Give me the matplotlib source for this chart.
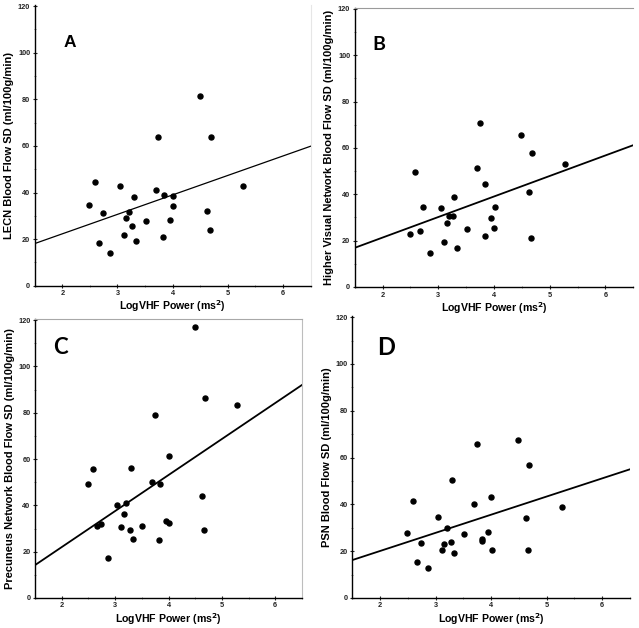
import numpy as np
import matplotlib.pyplot as plt
from matplotlib.ticker import MultipleLocator

# ---------------- DATA ----------------
# LogVHF power (same subjects in every panel)
logvhf = [2.49, 2.59, 2.67, 2.73, 2.86, 3.04, 3.11, 3.16, 3.20, 3.27, 3.29, 3.34, 3.51,
          3.70, 3.74, 3.83, 3.84, 3.95, 4.00, 4.01, 4.49, 4.62, 4.67, 4.69, 5.28]

lecn = [34.6, 44.4, 18.2, 31.3, 13.9, 43.0, 21.8, 29.0, 31.8, 25.7, 38.2, 19.4, 27.6,
        41.2, 63.8, 21.1, 39.1, 28.3, 38.5, 34.1, 81.6, 32.2, 24.1, 63.8, 42.7]
hvn = [22.8, 49.6, 24.1, 34.6, 14.6, 33.9, 19.3, 27.8, 30.7, 30.7, 38.8, 17.0, 25.2,
       51.4, 70.7, 22.2, 44.4, 29.7, 25.6, 34.4, 65.6, 41.2, 21.2, 57.8, 53.0]
precuneus = [49.3, 55.5, 31.3, 32.0, 17.3, 40.0, 30.8, 36.4, 41.0, 29.4, 56.3, 25.4, 31.1,
             50.0, 79.1, 24.9, 49.2, 33.1, 61.2, 32.4, 117.0, 44.2, 29.2, 86.2, 83.2]
psn = [27.8, 41.5, 15.5, 23.6, 13.0, 34.8, 20.7, 23.1, 29.8, 23.9, 50.4, 19.1, 27.4,
       40.3, 65.7, 24.5, 25.1, 28.1, 43.3, 20.5, 67.7, 34.2, 20.5, 56.8, 39.0]

# fitted line read at the x-axis ends (1.5 and 6.5)
line_x = [1.5, 6.5]
fit_lecn = [18.1, 59.9]
fit_hvn = [16.9, 61.2]
fit_prec = [14.2, 92.0]
fit_psn = [16.2, 55.0]

panels = [
    ("A", lecn, fit_lecn, "LECN Blood Flow SD (ml/100g/min)"),
    ("B", hvn, fit_hvn, "Higher Visual Network Blood Flow SD (ml/100g/min)"),
    ("C", precuneus, fit_prec, "Precuneus Network Blood Flow SD (ml/100g/min)"),
    ("D", psn, fit_psn, "PSN Blood Flow SD (ml/100g/min)"),
]

# axes rectangles in figure fractions
rects = [
    [0.0543, 0.545, 0.4319, 0.447],
    [0.5551, 0.543, 0.4360, 0.4447],
    [0.0548, 0.0478, 0.4178, 0.4443],
    [0.5513, 0.0478, 0.4346, 0.449],
]
letter_font = ["Liberation Sans", "Lato", "Lato", "Lato"]
letter_size = [12.5, 14, 16, 17]
letter_pos = [(0.126, 0.868), (0.087, 0.870), (0.097, 0.896), (0.12, 0.888)]
# faint frame leftovers: (top, right)
extra_spines = [(None, "#e6e6e6"), ("#9a9a9a", None), ("#a8a8a8", "#bdbdbd"), (None, None)]

fig = plt.figure(figsize=(6.39, 6.28), dpi=100)

for i, (letter, yvals, fit, ylab) in enumerate(panels):
    ax = fig.add_axes(rects[i])
    ax.plot(logvhf, yvals, "o", color="black", markersize=3.6, zorder=3)
    ax.plot(line_x, fit, color="black", lw=0.9 if i == 0 else 1.3)

    ax.set_xlim(1.5, 6.5)
    ax.set_ylim(0, 120.5)
    ax.set_xticks([2, 3, 4, 5, 6])
    ax.set_yticks([0, 20, 40, 60, 80, 100, 120])
    ax.xaxis.set_minor_locator(MultipleLocator(0.5))
    ax.yaxis.set_minor_locator(MultipleLocator(10))
    ax.tick_params(which="major", direction="inout", length=3.5, width=0.8,
                   labelsize=5.3, pad=1.5, colors="#222222")
    ax.tick_params(which="minor", direction="inout", length=2, width=0.6,
                   color="#777777")
    for lab in ax.get_xticklabels() + ax.get_yticklabels():
        lab.set_fontweight("bold")
        lab.set_family("Liberation Sans")

    for side in ["left", "bottom"]:
        ax.spines[side].set_linewidth(1.0)
    top_c, right_c = extra_spines[i]
    if top_c:
        ax.spines["top"].set_color(top_c)
    else:
        ax.spines["top"].set_visible(False)
    if right_c:
        ax.spines["right"].set_color(right_c)
    else:
        ax.spines["right"].set_visible(False)

    ax.set_xlabel("LogVHF Power (ms$^\\mathbf{2}$)", fontsize=7.6,
                  fontweight="bold", family="Liberation Sans", labelpad=1)
    ax.set_ylabel(ylab, fontsize=8, fontweight="bold",
                  family="Liberation Sans", labelpad=2.5)

    ax.text(letter_pos[i][0], letter_pos[i][1], letter, transform=ax.transAxes,
            fontsize=letter_size[i], fontweight="bold", family=letter_font[i],
            ha="center", va="center")

fig.savefig("out.png", dpi=100)
